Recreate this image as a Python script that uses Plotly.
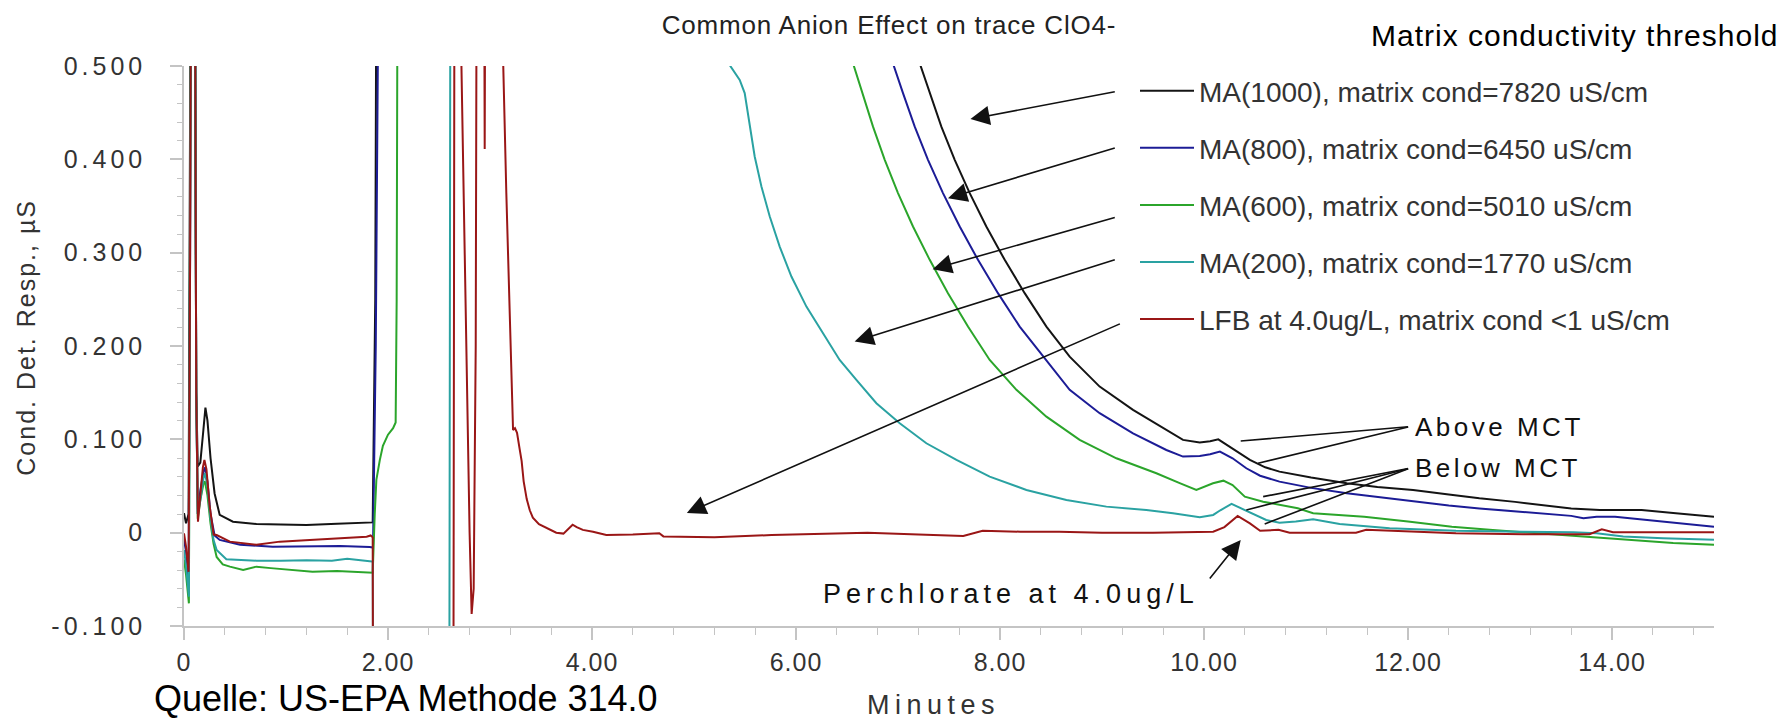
import plotly.graph_objects as go

# ---------------- data ----------------
series_names = [
    "MA(1000), matrix cond=7820 uS/cm",
    "MA(800), matrix cond=6450 uS/cm",
    "MA(600), matrix cond=5010 uS/cm",
    "MA(200), matrix cond=1770 uS/cm",
    "LFB at 4.0ug/L, matrix cond <1 uS/cm",
]
series_colors = ["#141414", "#1c1c96", "#2ba52b", "#2aa2a2", "#9a1616"]

black_t = [0.0, 0.02, 0.045, 0.06, 0.075, 0.10, 0.12, 0.135, 0.16, 0.19, 0.21, 0.23, 0.26, 0.30, 0.35,
           0.48, 0.71, 0.95, 1.20, 1.50, 1.82, 1.85, 1.875, 1.895, 4.00, 6.80, 7.219, 7.311, 7.425,
           7.556, 7.703, 7.866, 8.046, 8.242, 8.455, 8.683, 8.977, 9.304, 9.631, 9.794, 9.958, 10.06,
           10.14, 10.28, 10.45, 10.60, 10.74, 11.05, 11.40, 11.70, 12.05, 12.40, 12.70, 13.05, 13.36,
           13.60, 13.88, 14.10, 14.29, 14.60, 15.0]
black_y = [0.021, 0.010, 0.020, 0.400, 0.900, 0.900, 0.150, 0.071, 0.075, 0.110, 0.134, 0.120, 0.080,
           0.042, 0.019, 0.0118, 0.0093, 0.0088, 0.0083, 0.0095, 0.0107, 0.011, 0.25, 0.900, 0.900,
           0.640, 0.501, 0.471, 0.435, 0.3995, 0.3638, 0.328, 0.2923, 0.2566, 0.2208, 0.1886, 0.1565,
           0.1315, 0.110, 0.0994, 0.0965, 0.098, 0.100, 0.0904, 0.078, 0.070, 0.0654, 0.059, 0.053,
           0.049, 0.0458, 0.041, 0.0369, 0.033, 0.0286, 0.026, 0.0243, 0.024, 0.0243, 0.021, 0.0171]

blue_t = [0.0, 0.02, 0.045, 0.06, 0.075, 0.10, 0.12, 0.135, 0.16, 0.19, 0.205, 0.23, 0.26, 0.30, 0.35,
          0.55, 0.87, 1.20, 1.53, 1.82, 1.853, 1.88, 1.90, 1.91, 4.00, 6.65, 6.951, 7.049, 7.164, 7.294,
          7.441, 7.605, 7.784, 7.980, 8.193, 8.422, 8.683, 8.977, 9.304, 9.631, 9.794, 9.958, 10.06,
          10.156, 10.28, 10.415, 10.55, 10.74, 11.05, 11.40, 11.70, 12.05, 12.40, 12.70, 13.05, 13.36,
          13.60, 13.72, 13.85, 14.03, 14.37, 14.70, 15.0]
blue_y = [-0.008, -0.020, -0.050, 0.300, 0.900, 0.900, 0.150, 0.020, 0.045, 0.065, 0.070, 0.055, 0.020,
          -0.003, -0.0078, -0.013, -0.015, -0.0145, -0.0143, -0.0154, -0.016, 0.200, 0.500, 0.900,
          0.900, 0.600, 0.501, 0.471, 0.435, 0.3995, 0.3638, 0.328, 0.2923, 0.2566, 0.2208, 0.1886,
          0.153, 0.128, 0.1065, 0.0886, 0.0815, 0.0822, 0.084, 0.0868, 0.0797, 0.069, 0.061, 0.0547,
          0.048, 0.0422, 0.038, 0.0332, 0.029, 0.026, 0.023, 0.0208, 0.018, 0.0154, 0.017, 0.0171,
          0.0136, 0.010, 0.0064]

green_t = [0.0, 0.02, 0.048, 0.06, 0.075, 0.10, 0.12, 0.135, 0.16, 0.19, 0.205, 0.23, 0.26, 0.29, 0.32,
           0.38, 0.45, 0.58, 0.71, 0.85, 1.04, 1.26, 1.50, 1.70, 1.82, 1.85, 1.87, 1.886, 1.92, 1.95,
           2.00, 2.05, 2.075, 2.085, 2.10, 4.00, 6.25, 6.566, 6.657, 6.755, 6.870, 7.000, 7.147, 7.311,
           7.490, 7.686, 7.899, 8.161, 8.455, 8.781, 9.141, 9.533, 9.762, 9.925, 10.088, 10.19, 10.28,
           10.40, 10.58, 10.92, 11.07, 11.20, 11.57, 12.00, 12.43, 12.80, 13.29, 13.60, 13.94, 14.30,
           14.60, 15.0]
green_y = [-0.029, -0.045, -0.0757, 0.300, 0.900, 0.900, 0.150, 0.015, 0.035, 0.052, 0.055, 0.040, 0.010,
           -0.012, -0.026, -0.034, -0.0364, -0.040, -0.0364, -0.038, -0.040, -0.0418, -0.041, -0.042,
           -0.043, -0.043, 0.020, 0.0565, 0.078, 0.093, 0.105, 0.112, 0.118, 0.250, 0.900, 0.900,
           0.610, 0.501, 0.471, 0.435, 0.3995, 0.3638, 0.328, 0.2923, 0.2566, 0.2208, 0.185, 0.153,
           0.1243, 0.0994, 0.0797, 0.0637, 0.053, 0.0458, 0.053, 0.0557, 0.051, 0.0386, 0.0332, 0.0261,
           0.0208, 0.020, 0.0171, 0.012, 0.0064, 0.003, -0.0007, -0.003, -0.006, -0.009, -0.011, -0.013]

cyan_t = [0.0, 0.02, 0.048, 0.06, 0.075, 0.10, 0.12, 0.135, 0.16, 0.19, 0.205, 0.23, 0.26, 0.29, 0.32,
          0.415, 0.55, 0.71, 0.95, 1.20, 1.45, 1.60, 1.82, 1.85, 1.858, 2.60, 2.615, 5.20, 5.350, 5.448,
          5.497, 5.546, 5.595, 5.661, 5.742, 5.840, 5.955, 6.102, 6.265, 6.428, 6.592, 6.788, 7.017,
          7.278, 7.573, 7.899, 8.259, 8.651, 9.043, 9.435, 9.696, 9.958, 10.09, 10.16, 10.27, 10.40,
          10.61, 10.74, 10.90, 11.07, 11.33, 11.82, 12.47, 13.13, 13.62, 13.85, 14.11, 14.50, 15.0]
cyan_y = [-0.0186, -0.035, -0.0686, 0.300, 0.900, 0.900, 0.150, 0.020, 0.035, 0.058, 0.064, 0.050,
          0.015, -0.008, -0.0185, -0.0285, -0.029, -0.030, -0.030, -0.0295, -0.030, -0.028, -0.0307,
          -0.031, -0.300, -0.300, 0.900, 0.600, 0.501, 0.485, 0.471, 0.435, 0.403, 0.371, 0.339,
          0.3065, 0.2744, 0.2422, 0.2137, 0.185, 0.1637, 0.1387, 0.1173, 0.0958, 0.0779, 0.060,
          0.0458, 0.035, 0.0279, 0.0243, 0.0208, 0.0165, 0.019, 0.024, 0.0308, 0.0243, 0.0136, 0.0107,
          0.012, 0.0144, 0.0093, 0.0047, 0.002, 0.001, 0.0004, -0.0007, -0.004, -0.006, -0.0075]

red_t = [0.0, 0.02, 0.045, 0.06, 0.075, 0.10, 0.12, 0.137, 0.16, 0.185, 0.20, 0.22, 0.25, 0.29, 0.32,
         0.45, 0.71, 0.94, 1.19, 1.36, 1.60, 1.79, 1.83, 1.85, 1.855, 2.64, 2.655, 2.70, 2.72, 2.75,
         2.78, 2.80, 2.82, 2.84, 2.86, 2.875, 2.935, 2.948, 2.96, 3.12, 3.13, 3.16, 3.19, 3.216, 3.226,
         3.245, 3.265, 3.29, 3.31, 3.33, 3.36, 3.39, 3.42, 3.48, 3.55, 3.65, 3.72, 3.77, 3.81, 3.85,
         3.91, 4.01, 4.14, 4.40, 4.66, 4.70, 5.20, 5.76, 6.20, 6.70, 7.20, 7.64, 7.83, 8.20, 8.58,
         9.00, 9.50, 9.86, 10.09, 10.20, 10.33, 10.45, 10.55, 10.73, 10.84, 11.20, 11.49, 11.59,
         12.00, 12.47, 13.13, 13.50, 13.78, 13.90, 14.01, 14.50, 15.0]
red_y = [-0.0007, -0.015, -0.042, 0.300, 0.900, 0.900, 0.150, 0.0118, 0.040, 0.070, 0.078, 0.068, 0.030,
         -0.002, -0.0025, -0.0096, -0.013, -0.0096, -0.008, -0.007, -0.006, -0.0043, -0.003, -0.005,
         -0.300, -0.300, 0.900, 0.900, 0.500, 0.300, 0.100, 0.000, -0.087, -0.060, 0.200, 0.900,
         0.900, 0.411, 0.900, 0.900, 0.500, 0.364, 0.241, 0.159, 0.110, 0.112, 0.107, 0.090, 0.077,
         0.055, 0.036, 0.024, 0.016, 0.009, 0.005, 0.000, -0.001, 0.004, 0.0085, 0.006, 0.003, 0.001,
         -0.0025, -0.002, -0.0007, -0.004, -0.005, -0.0025, -0.001, 0.000, -0.002, -0.0035, 0.002,
         0.001, 0.001, 0.000, 0.000, 0.0004, 0.001, 0.006, 0.018, 0.010, 0.002, 0.003, 0.000, 0.000,
         0.000, 0.003, 0.001, -0.0007, -0.0017, -0.0017, -0.0017, 0.0036, 0.0004, 0.0004, 0.0004]

x_tickvals = [0, 2, 4, 6, 8, 10, 12, 14]
x_ticktext = ["0", "2.00", "4.00", "6.00", "8.00", "10.00", "12.00", "14.00"]
y_tickvals = [-0.1, 0.0, 0.1, 0.2, 0.3, 0.4, 0.5]
y_ticktext = ["-0.100", "0", "0.100", "0.200", "0.300", "0.400", "0.500"]

# legend arrows: (tail t, tail y) -> (head t, head y)
legend_arrow_tail = [(9.14, 0.4727), (9.14, 0.4127), (9.14, 0.3381), (9.14, 0.2930), (9.19, 0.2244)]
legend_arrow_head = [(7.71, 0.4431), (7.49, 0.3584), (7.34, 0.2823), (6.575, 0.2047), (4.93, 0.0211)]
above_origin = (12.016, 0.1136)
above_targets = [(10.36, 0.0982), (10.53, 0.0744)]
below_origin = (12.016, 0.0690)
below_targets = [(10.58, 0.0386), (10.415, 0.0243), (10.595, 0.0093)]
perc_tail = (10.045, -0.0507)
perc_head = (10.36, -0.0078)

# ---------------- figure ----------------
FONT = "Liberation Sans, Arial, sans-serif"
AXC = "#c4c4c4"
TXT = "#333333"


def spaced(s, px):
    return '<span style="letter-spacing:%spx">%s</span>' % (px, s)


all_t = [black_t, blue_t, green_t, cyan_t, red_t]
all_y = [black_y, blue_y, green_y, cyan_y, red_y]

fig = go.Figure()
for name, col, tt, yy in zip(series_names, series_colors, all_t, all_y):
    assert len(tt) == len(yy), name
    fig.add_trace(go.Scatter(x=tt, y=yy, mode="lines", name=name, legendgroup=name,
                             line=dict(color=col, width=2)))

fig.update_layout(
    width=1790, height=720,
    margin=dict(l=184, r=76, t=66, b=94),
    plot_bgcolor="white", paper_bgcolor="white",
    font=dict(family=FONT, color=TXT),
    title=dict(text=spaced("Common Anion Effect on trace ClO4-", 0.8), x=889 / 1790, xref="container",
               xanchor="center", y=1 - 25 / 720, yref="container", yanchor="middle",
               font=dict(size=26, color="#222222", family=FONT)),
    showlegend=True,
    legend=dict(x=(1135 - 184) / 1530, xanchor="left", y=(626 - 66) / 560, yanchor="top",
                font=dict(size=28, color=TXT, family=FONT), traceorder="grouped",
                tracegroupgap=17.7, bgcolor="rgba(0,0,0,0)", borderwidth=0, itemwidth=54),
    xaxis=dict(range=[0, 15], showline=True, linecolor=AXC, linewidth=1.5, ticks="outside",
               ticklen=12, tickwidth=1.5, tickcolor=AXC, tickvals=x_tickvals,
               ticktext=[spaced(s, 1) for s in x_ticktext], tickfont=dict(size=25, color=TXT),
               minor=dict(tick0=0, dtick=0.4, ticks="outside", ticklen=7, tickwidth=1.2, tickcolor=AXC),
               showgrid=False, zeroline=False, ticklabelstandoff=1),
    yaxis=dict(range=[-0.1, 0.5], showline=True, linecolor=AXC, linewidth=1.5, ticks="outside",
               ticklen=12, tickwidth=1.5, tickcolor=AXC, tickvals=y_tickvals,
               ticktext=[spaced(s, 4) for s in y_ticktext], tickfont=dict(size=25, color=TXT),
               minor=dict(tick0=-0.1, dtick=0.02, ticks="outside", ticklen=5, tickwidth=1.2, tickcolor=AXC),
               showgrid=False, zeroline=False, ticklabelstandoff=19),
    xaxis2=dict(range=[0, 15], overlaying="x", anchor="y", side="bottom", showline=False,
                ticks="inside", ticklen=9, tickwidth=1.5, tickcolor=AXC, tickvals=x_tickvals,
                showticklabels=False, showgrid=False, zeroline=False,
                minor=dict(tick0=0, dtick=0.4, ticks="inside", ticklen=5, tickwidth=1.2, tickcolor=AXC)),
    yaxis2=dict(range=[-0.1, 0.5], overlaying="y", anchor="x", side="left", showline=False,
                ticks="inside", ticklen=15, tickwidth=1.5, tickcolor=AXC, tickvals=y_tickvals,
                showticklabels=False, showgrid=False, zeroline=False,
                minor=dict(tick0=-0.1, dtick=0.02, ticks="inside", ticklen=7, tickwidth=1.2, tickcolor=AXC)),
)

ann = []
# axis titles
ann.append(dict(text=spaced("Cond. Det. Resp., µS", 2), xref="paper", yref="paper",
                x=(26 - 184.3) / 1530, y=(626 - 337) / 560, textangle=-90, showarrow=False,
                xanchor="center", yanchor="middle", font=dict(size=25, color=TXT)))
ann.append(dict(text=spaced("Minutes", 5.5), xref="paper", yref="paper",
                x=(934 - 184.3) / 1530, y=(626 - 705) / 560, showarrow=False,
                xanchor="center", yanchor="middle", font=dict(size=27, color=TXT)))
ann.append(dict(text=spaced("Matrix conductivity threshold", 1), xref="paper", yref="paper",
                x=(1781 - 184.3) / 1530, y=(626 - 36) / 560, showarrow=False,
                xanchor="right", yanchor="middle", font=dict(size=30, color="#000000")))
ann.append(dict(text="Quelle: US-EPA Methode 314.0", xref="paper", yref="paper",
                x=(152 - 184.3) / 1530, y=(626 - 698) / 560, showarrow=False,
                xanchor="left", yanchor="middle", font=dict(size=36, color="#000000")))

# arrows from legend entries to curves
for (tx, ty), (hx, hy) in zip(legend_arrow_tail, legend_arrow_head):
    ann.append(dict(text="", x=hx, y=hy, ax=tx, ay=ty, xref="x", yref="y", axref="x", ayref="y",
                    showarrow=True, arrowhead=2, arrowsize=2.4, arrowwidth=1.6, arrowcolor="#111111",
                    standoff=0, startstandoff=0))

# MCT leader lines
for (hx, hy) in above_targets:
    ann.append(dict(text="", x=hx, y=hy, ax=above_origin[0], ay=above_origin[1], xref="x", yref="y",
                    axref="x", ayref="y", showarrow=True, arrowhead=0, arrowwidth=1.6,
                    arrowcolor="#111111", standoff=0, startstandoff=0))
for (hx, hy) in below_targets:
    ann.append(dict(text="", x=hx, y=hy, ax=below_origin[0], ay=below_origin[1], xref="x", yref="y",
                    axref="x", ayref="y", showarrow=True, arrowhead=0, arrowwidth=1.6,
                    arrowcolor="#111111", standoff=0, startstandoff=0))
ann.append(dict(text=spaced("Above MCT", 3.5), x=above_origin[0], y=above_origin[1], xref="x", yref="y",
                showarrow=False, xanchor="left", yanchor="middle", xshift=3,
                font=dict(size=26, color="#111111")))
ann.append(dict(text=spaced("Below MCT", 3.5), x=below_origin[0], y=below_origin[1], xref="x", yref="y",
                showarrow=False, xanchor="left", yanchor="middle", xshift=3,
                font=dict(size=26, color="#111111")))

# perchlorate label + arrow
ann.append(dict(text=spaced("Perchlorate at 4.0ug/L", 5.0), x=6.242, y=-0.0657, xref="x", yref="y",
                showarrow=False, xanchor="left", yanchor="middle", font=dict(size=27, color="#111111")))
ann.append(dict(text="", x=perc_head[0], y=perc_head[1], ax=perc_tail[0], ay=perc_tail[1],
                xref="x", yref="y", axref="x", ayref="y", showarrow=True, arrowhead=2, arrowsize=2.4,
                arrowwidth=1.6, arrowcolor="#111111", standoff=0, startstandoff=0))

fig.update_layout(annotations=ann)
fig.write_html("out.html")
